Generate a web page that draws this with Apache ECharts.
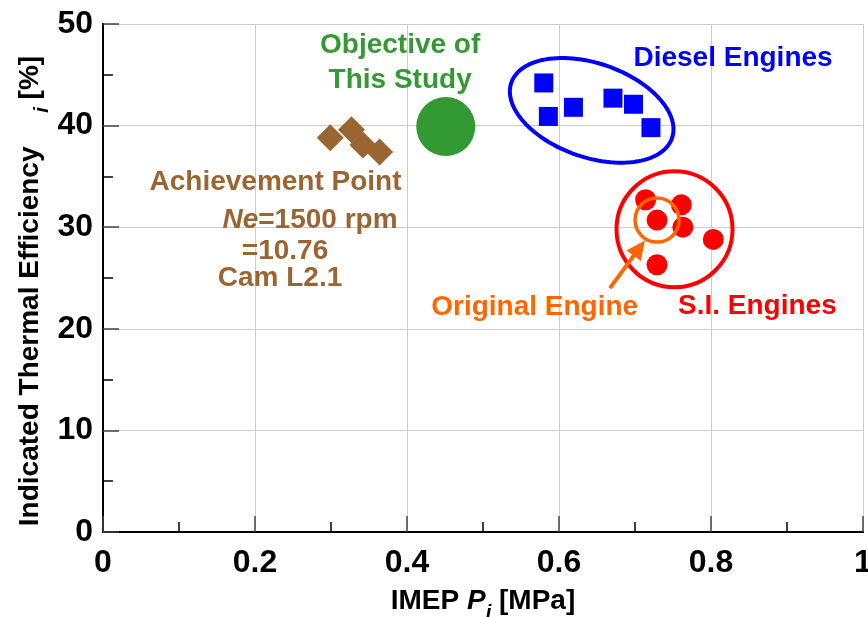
<!DOCTYPE html>
<html><head><meta charset="utf-8">
<script src="https://cdn.jsdelivr.net/npm/echarts@6/dist/echarts.min.js"></script>
<style>html,body{margin:0;padding:0;background:#fff}#c{width:868px;height:617px}</style>
</head><body><div id="c"></div>
<script>
// ---- data ----
const achievementX = [0.299, 0.327, 0.342, 0.364];
const achievementY = [38.8, 39.6, 38.1, 37.4];
const objectiveX = [0.451];
const objectiveY = [39.9];
const dieselX = [0.580, 0.586, 0.619, 0.671, 0.698, 0.721];
const dieselY = [44.2, 40.9, 41.8, 42.7, 42.1, 39.8];
const siX = [0.714, 0.761, 0.729, 0.763, 0.803, 0.729];
const siY = [32.7, 32.2, 30.7, 30.0, 28.8, 26.3];
const xTickValues = [0, 0.2, 0.4, 0.6, 0.8, 1];
const yTickValues = [0, 10, 20, 30, 40, 50];
// annotation anchors in data coordinates
const dieselEllipseCenter = [0.643, 41.5];
const circleCentersX = [0.752, 0.729];
const circleCentersY = [29.8, 30.7];
const arrowFrom = [0.667, 24.0];
const arrowTo = [0.713, 28.7];
const labelTexts = ['Objective of\nThis Study', 'Diesel Engines', 'Achievement Point', '{it|Ne}=1500 rpm', '=10.76', 'Cam L2.1', 'Original Engine', 'S.I. Engines'];
const labelX = [0.391, 0.829, 0.227, 0.2724, 0.2395, 0.2329, 0.568, 0.861];
const labelY = [46.2, 46.6, 34.45, 30.64, 27.59, 24.97, 22.07, 22.24];

// ---- styles ----
const FONT = '"Liberation Sans", Arial, sans-serif';
const BROWN = '#996633', GREEN = '#339933', BLUE = '#0000FF', RED = '#FF0000', ORANGE = '#FF6600';
const labelColors = [GREEN, BLUE, BROWN, BROWN, BROWN, BROWN, ORANGE, RED];
const circleStyles = [{r: 58, color: RED, w: 4}, {r: 22, color: ORANGE, w: 3.5}];

const zip = (xs, ys) => xs.map((x, i) => [x, ys[i]]);

const chart = echarts.init(document.getElementById('c'), null, {renderer: 'canvas'});

const axisLabelStyle = {fontSize: 32, fontWeight: 'bold', color: '#000', fontFamily: FONT};
const nameRich = {
  n: {fontSize: 28, fontWeight: 'bold', color: '#000', fontFamily: FONT, lineHeight: 36, verticalAlign: 'top'},
  it: {fontSize: 28, fontWeight: 'bold', fontStyle: 'italic', color: '#000', fontFamily: FONT, lineHeight: 36, verticalAlign: 'top'},
  sub: {fontSize: 20, fontWeight: 'bold', fontStyle: 'italic', color: '#000', fontFamily: FONT, lineHeight: 20, verticalAlign: 'bottom'},
  gap: {fontSize: 28, width: 26, lineHeight: 36, verticalAlign: 'top'}
};

const option = {
  animation: false,
  backgroundColor: '#fff',
  grid: {left: 103, right: 5, top: 24, bottom: 85, containLabel: false, outerBoundsMode: 'none'},
  xAxis: [{
    type: 'value', min: 0, max: 1, interval: 0.2,
    name: '{n|IMEP }{it|P}{sub|i}{n| [MPa]}',
    nameLocation: 'middle', nameGap: 55, nameMoveOverlap: false,
    nameTextStyle: {rich: nameRich},
    axisLine: {show: true, lineStyle: {color: '#000', width: 2}},
    axisTick: {show: true, inside: true, length: 16, lineStyle: {color: '#444', width: 1.5}},
    minorTick: {show: true, splitNumber: 2, length: 10, lineStyle: {color: '#000', width: 1.5}},
    splitLine: {show: true, lineStyle: {color: '#cccccc', width: 1}},
    axisLabel: Object.assign({margin: 15, formatter: v => xTickValues.includes(+v.toFixed(1)) ? String(+v.toFixed(1)) : ''}, axisLabelStyle)
  }, {
    type: 'value', min: 0, max: 1, position: 'top',
    axisLine: {show: true, lineStyle: {color: '#000', width: 2}},
    axisTick: {show: false}, axisLabel: {show: false}, splitLine: {show: false}
  }],
  yAxis: [{
    type: 'value', min: 0, max: 50, interval: 10,
    name: '{n|Indicated Thermal Efficiency }{gap|}{sub|i}{n| [%]}',
    nameLocation: 'middle', nameGap: 51, nameMoveOverlap: false,
    nameTextStyle: {rich: nameRich, padding: [0, 26, 0, 0]},
    axisLine: {show: true, lineStyle: {color: '#000', width: 2}},
    axisTick: {show: true, inside: true, length: 16, lineStyle: {color: '#444', width: 1.5}},
    minorTick: {show: true, splitNumber: 2, length: 10, lineStyle: {color: '#000', width: 1.5}},
    splitLine: {show: true, lineStyle: {color: '#cccccc', width: 1}},
    axisLabel: Object.assign({margin: 10, formatter: v => yTickValues.includes(v) ? String(v) : ''}, axisLabelStyle)
  }, {
    type: 'value', min: 0, max: 50, position: 'right',
    axisLine: {show: true, lineStyle: {color: '#000', width: 2}},
    axisTick: {show: false}, axisLabel: {show: false}, splitLine: {show: false}
  }],
  series: [
    {type: 'scatter', name: 'Achievement', symbol: 'diamond', symbolSize: 27, itemStyle: {color: BROWN, opacity: 1}, data: zip(achievementX, achievementY), z: 3},
    {type: 'scatter', name: 'Objective', symbol: 'circle', symbolSize: 59, itemStyle: {color: GREEN, opacity: 1}, data: zip(objectiveX, objectiveY), z: 3},
    {type: 'scatter', name: 'Diesel', symbol: 'rect', symbolSize: 19, itemStyle: {color: BLUE, opacity: 1}, data: zip(dieselX, dieselY), z: 3},
    {type: 'scatter', name: 'SI', symbol: 'circle', symbolSize: 21, itemStyle: {color: RED, opacity: 1}, data: zip(siX, siY), z: 3},
    {
      type: 'custom', name: 'ellipse', clip: false, z: 4,
      data: [dieselEllipseCenter],
      renderItem: (params, api) => {
        const c = api.coord([api.value(0), api.value(1)]);
        const rx = 85, ry = 47, th = 19 * Math.PI / 180;
        const pts = [];
        for (let k = 0; k < 120; k++) {
          const t = k / 120 * 2 * Math.PI;
          const ex = rx * Math.cos(t), ey = ry * Math.sin(t);
          pts.push([c[0] + ex * Math.cos(th) - ey * Math.sin(th), c[1] + ex * Math.sin(th) + ey * Math.cos(th)]);
        }
        return {type: 'polygon', shape: {points: pts}, style: {fill: 'none', stroke: BLUE, lineWidth: 4}};
      }
    },
    {
      type: 'custom', name: 'circles', clip: false, z: 4,
      data: zip(circleCentersX, circleCentersY),
      renderItem: (params, api) => {
        const c = api.coord([api.value(0), api.value(1)]);
        const s = circleStyles[params.dataIndex];
        return {type: 'circle', shape: {cx: c[0], cy: c[1], r: s.r}, style: {fill: 'none', stroke: s.color, lineWidth: s.w}};
      }
    },
    {
      type: 'custom', name: 'arrow', clip: false, z: 5,
      data: [[arrowFrom[0], arrowFrom[1], arrowTo[0], arrowTo[1]]],
      encode: {x: [0, 2], y: [1, 3]},
      renderItem: (params, api) => {
        const a = api.coord([api.value(0), api.value(1)]);
        const b = api.coord([api.value(2), api.value(3)]);
        const dx = b[0] - a[0], dy = b[1] - a[1];
        const L = Math.hypot(dx, dy), ux = dx / L, uy = dy / L;
        const hl = 19, hw = 9;
        const base = [b[0] - ux * hl, b[1] - uy * hl];
        return {type: 'group', children: [
          {type: 'line', shape: {x1: a[0], y1: a[1], x2: base[0] + ux * 2, y2: base[1] + uy * 2}, style: {stroke: ORANGE, lineWidth: 4}},
          {type: 'polygon', shape: {points: [b, [base[0] - uy * hw, base[1] + ux * hw], [base[0] + uy * hw, base[1] - ux * hw]]}, style: {fill: ORANGE}}
        ]};
      }
    },
    {
      type: 'custom', name: 'labels', clip: false, z: 6,
      data: zip(labelX, labelY),
      renderItem: (params, api) => {
        const c = api.coord([api.value(0), api.value(1)]);
        const i = params.dataIndex;
        return {type: 'text', x: c[0], y: c[1], style: {
          text: labelTexts[i], fill: labelColors[i], fontSize: 28, fontWeight: 'bold', fontFamily: FONT,
          align: 'center', verticalAlign: 'middle', lineHeight: 35,
          rich: {it: {fontSize: 28, fontWeight: 'bold', fontStyle: 'italic', fontFamily: FONT, fill: labelColors[i]}}
        }};
      }
    }
  ]
};
chart.setOption(option);
</script>
</body></html>
